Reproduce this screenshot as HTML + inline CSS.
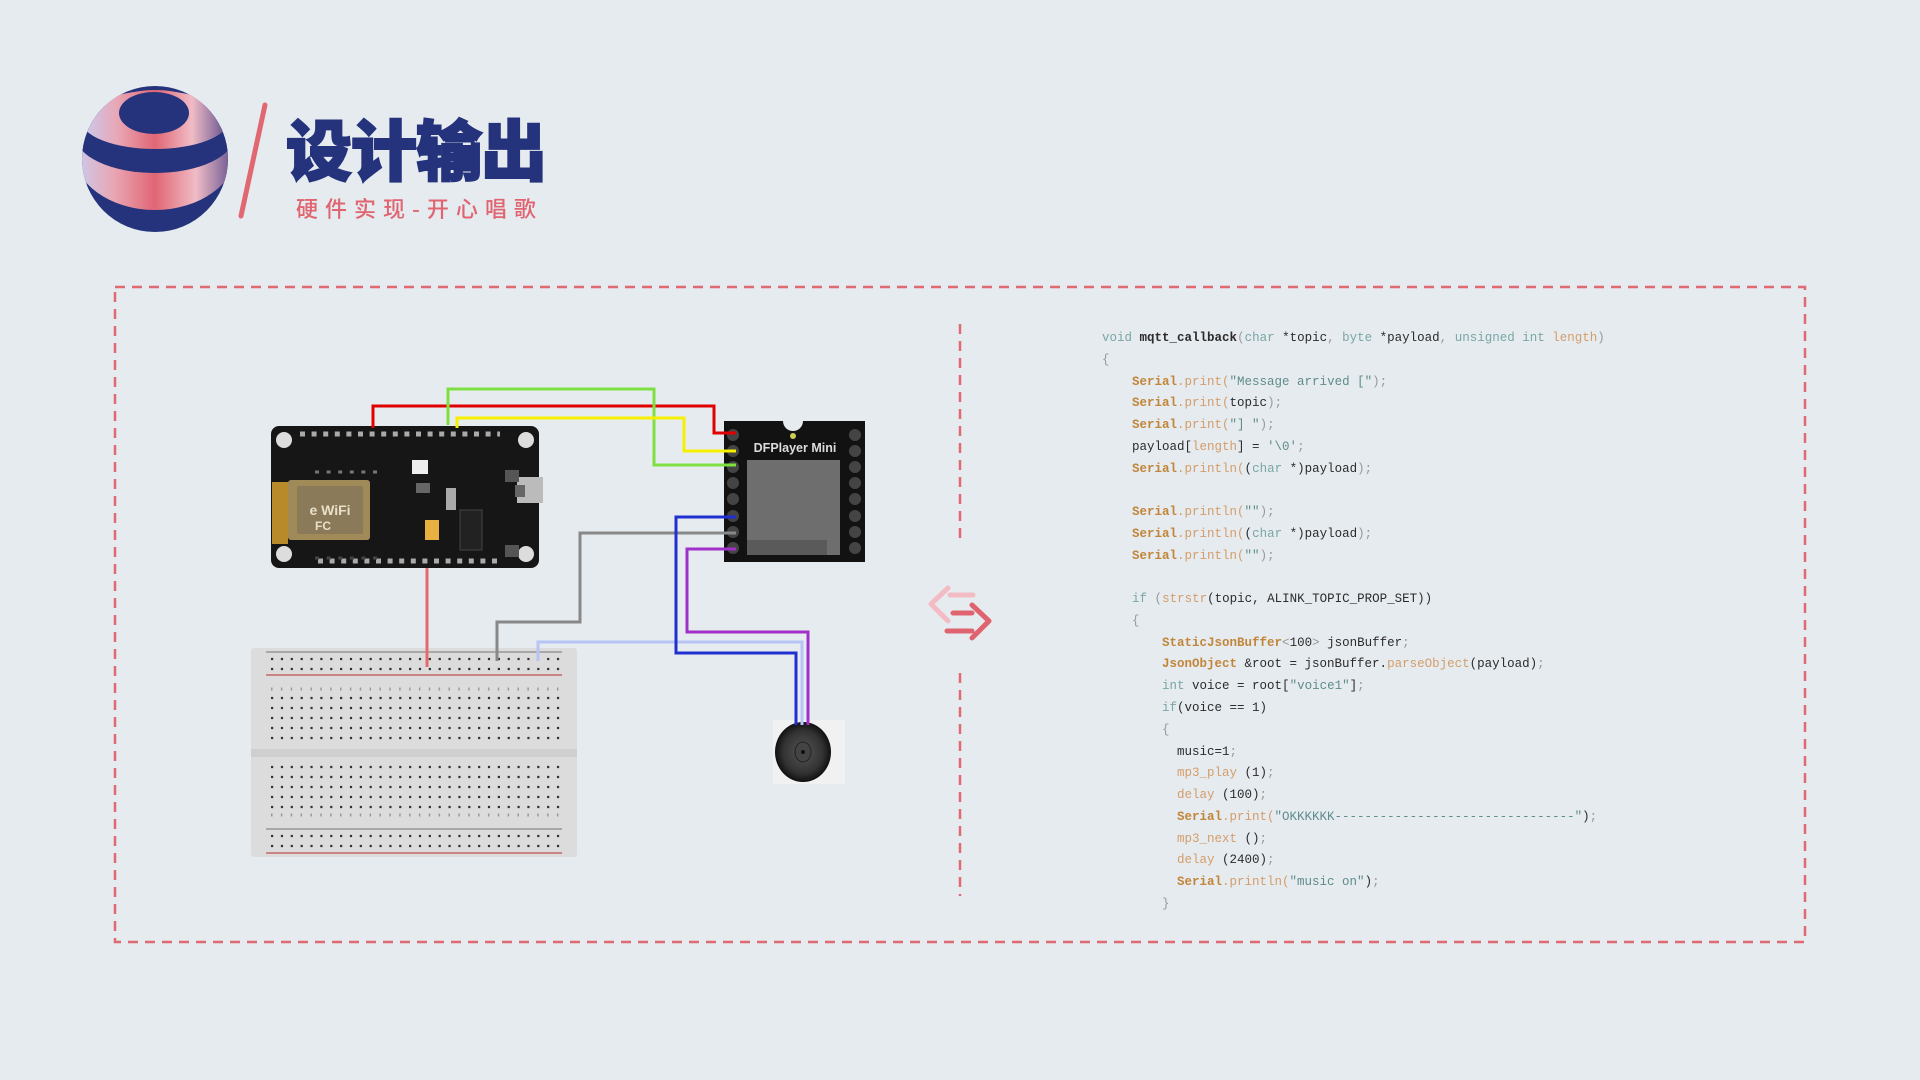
<!DOCTYPE html>
<html><head><meta charset="utf-8">
<style>
html,body{margin:0;padding:0;}
body{width:1920px;height:1080px;background:#e6ebef;position:relative;overflow:hidden;font-family:"Liberation Sans","Noto Sans CJK SC",sans-serif;}
.title{position:absolute;left:286px;top:104px;font-size:66px;font-weight:900;color:#24337c;letter-spacing:-1px;font-family:"Noto Sans CJK SC","WenQuanYi Zen Hei",sans-serif;line-height:86px;-webkit-text-stroke:2px #24337c;}
.sub{position:absolute;left:296px;top:193px;font-size:22px;color:#e06570;letter-spacing:7px;font-family:"Noto Sans CJK SC",sans-serif;line-height:30px;font-weight:500;}
pre{position:absolute;left:1102px;top:328px;margin:0;font-family:"Liberation Mono",monospace;font-size:12.5px;line-height:21.76px;color:#2b2b2b;}
.k{color:#7aa6a6}.s{color:#c2863a;font-weight:bold}.m{color:#d49d6a}.q{color:#5f8c8c}.p{color:#999}
</style></head><body>
<svg width="1920" height="1080" style="position:absolute;left:0;top:0">
<defs>
<clipPath id="cc"><circle cx="155" cy="159" r="73"/></clipPath>
<linearGradient id="pk" x1="0" x2="1" y1="0" y2="0">
<stop offset="0" stop-color="#c9cdf2"/><stop offset="0.25" stop-color="#e9a6b4"/><stop offset="0.5" stop-color="#e06674"/><stop offset="0.75" stop-color="#f0bcc6"/><stop offset="1" stop-color="#5a4a8a"/></linearGradient>
<radialGradient id="spk" cx="0.5" cy="0.5" r="0.5"><stop offset="0" stop-color="#555"/><stop offset="0.7" stop-color="#333"/><stop offset="1" stop-color="#111"/></radialGradient>
</defs>
<!-- logo -->
<g clip-path="url(#cc)">
<rect x="80" y="80" width="160" height="160" fill="#24337c"/>
<ellipse cx="155" cy="150" rx="82" ry="60" fill="url(#pk)"/>
<ellipse cx="155" cy="135" rx="80" ry="38" fill="#24337c"/>
<ellipse cx="155" cy="120" rx="74" ry="29" fill="url(#pk)"/>
<ellipse cx="154" cy="113" rx="35" ry="21" fill="#24337c"/>
</g>
<line x1="265" y1="105" x2="241" y2="216" stroke="#e06872" stroke-width="5" stroke-linecap="round"/>
<!-- dashed box -->
<rect x="115" y="287" width="1690" height="655" fill="none" stroke="#e06a72" stroke-width="2.5" stroke-dasharray="10 7"/>
<line x1="960" y1="324" x2="960" y2="545" stroke="#e06a72" stroke-width="2.5" stroke-dasharray="10 7"/>
<line x1="960" y1="673" x2="960" y2="896" stroke="#e06a72" stroke-width="2.5" stroke-dasharray="10 7"/>
<!-- arrows -->
<g fill="none" stroke-width="5" stroke-linecap="round" stroke-linejoin="round">
<path d="M973 595 H950 M948 588 L931 604 L948 621" stroke="#f3bcc4"/>
<path d="M953 613 H972 M947 631 H972 M972 605 L989 621 L972 638" stroke="#e0646f"/>
</g>
<!-- breadboard -->
<rect x="251" y="648" width="326" height="209" rx="3" fill="#dcdcdc"/>
<rect x="251" y="749" width="326" height="8" fill="#cfcfcf"/>
<line x1="266" y1="652" x2="562" y2="652" stroke="#888" stroke-width="1.2"/>
<line x1="266" y1="675" x2="562" y2="675" stroke="#c05050" stroke-width="1.2"/>
<line x1="266" y1="829" x2="562" y2="829" stroke="#888" stroke-width="1.2"/>
<line x1="266" y1="853" x2="562" y2="853" stroke="#c05050" stroke-width="1.2"/>
<g stroke="#333" stroke-width="2.2" stroke-dasharray="2.2 7.66">
<line x1="271" y1="659" x2="561" y2="659"/><line x1="271" y1="669" x2="561" y2="669"/>
<line x1="271" y1="698" x2="561" y2="698"/><line x1="271" y1="708" x2="561" y2="708"/><line x1="271" y1="718" x2="561" y2="718"/><line x1="271" y1="728" x2="561" y2="728"/><line x1="271" y1="738" x2="561" y2="738"/>
<line x1="271" y1="767" x2="561" y2="767"/><line x1="271" y1="777" x2="561" y2="777"/><line x1="271" y1="787" x2="561" y2="787"/><line x1="271" y1="797" x2="561" y2="797"/><line x1="271" y1="807" x2="561" y2="807"/>
<line x1="271" y1="836" x2="561" y2="836"/><line x1="271" y1="846" x2="561" y2="846"/>
</g>
<g stroke="#999" stroke-width="3" stroke-dasharray="1.5 8.36"><line x1="271" y1="689" x2="561" y2="689"/><line x1="271" y1="815" x2="561" y2="815"/></g>
<!-- nodemcu -->
<rect x="271" y="426" width="268" height="142" rx="8" fill="#161616"/>
<circle cx="284" cy="440" r="8" fill="#ddd"/><circle cx="526" cy="440" r="8" fill="#ddd"/>
<circle cx="284" cy="554" r="8" fill="#ddd"/><circle cx="526" cy="554" r="8" fill="#ddd"/>
<g stroke="#aaa" stroke-width="5" stroke-dasharray="5 6.6"><line x1="300" y1="434" x2="500" y2="434"/><line x1="318" y1="561" x2="500" y2="561"/></g>
<g stroke="#777" stroke-width="3" stroke-dasharray="4 7.6"><line x1="315" y1="472" x2="380" y2="472"/><line x1="315" y1="558" x2="380" y2="558" stroke="#444"/></g>
<rect x="272" y="482" width="16" height="62" fill="#b88a2a"/>
<rect x="288" y="480" width="82" height="60" rx="3" fill="#a08a58"/>
<rect x="297" y="486" width="66" height="48" rx="2" fill="#8a7a5a"/>
<text x="330" y="515" font-size="14" font-weight="bold" fill="#e8e0c8" text-anchor="middle">e WiFi</text>
<text x="315" y="530" font-size="12" font-weight="bold" fill="#e8e0c8">FC</text>
<rect x="425" y="520" width="14" height="20" fill="#e8b040"/><rect x="460" y="510" width="22" height="40" fill="#222" stroke="#444"/>
<rect x="416" y="483" width="14" height="10" fill="#666"/><rect x="446" y="488" width="10" height="22" fill="#aaa"/>
<rect x="517" y="477" width="26" height="26" fill="#bbb"/><rect x="515" y="485" width="10" height="12" fill="#666"/>
<rect x="505" y="470" width="14" height="12" fill="#555"/><rect x="505" y="545" width="14" height="12" fill="#555"/>
<rect x="412" y="460" width="16" height="14" fill="#eee"/>
<!-- dfplayer -->
<rect x="724" y="421" width="141" height="141" fill="#121212"/>
<circle cx="793" cy="421" r="10" fill="#e6ebef"/>
<circle cx="793" cy="436" r="3" fill="#cc5"/>
<text x="795" y="452" font-size="12.5" fill="#ddd" text-anchor="middle" font-weight="bold">DFPlayer Mini</text>
<rect x="747" y="460" width="93" height="95" fill="#6e6e6e"/>
<rect x="747" y="540" width="80" height="15" fill="#5a5a5a"/>
<g fill="#444"><circle cx="733" cy="435" r="6"/><circle cx="733" cy="451" r="6"/><circle cx="733" cy="467" r="6"/><circle cx="733" cy="483" r="6"/><circle cx="733" cy="499" r="6"/><circle cx="733" cy="516" r="6"/><circle cx="733" cy="532" r="6"/><circle cx="733" cy="548" r="6"/>
<circle cx="855" cy="435" r="6"/><circle cx="855" cy="451" r="6"/><circle cx="855" cy="467" r="6"/><circle cx="855" cy="483" r="6"/><circle cx="855" cy="499" r="6"/><circle cx="855" cy="516" r="6"/><circle cx="855" cy="532" r="6"/><circle cx="855" cy="548" r="6"/></g>
<!-- speaker -->
<rect x="773" y="720" width="72" height="64" fill="#f1f1f1"/>
<ellipse cx="803" cy="752" rx="28" ry="30" fill="url(#spk)"/>
<ellipse cx="803" cy="752" rx="8" ry="10" fill="#444" stroke="#222"/>
<circle cx="803" cy="752" r="2" fill="#111"/>
<!-- wires -->
<g fill="none" stroke-width="3">
<polyline points="427,568 427,667" stroke="#e86870"/>
<polyline points="373,428 373,406 714,406 714,433 736,433" stroke="#e00000"/>
<polyline points="448,425 448,389 654,389 654,465 736,465" stroke="#7ee040"/>
<polyline points="457,428 457,418 684,418 684,451 736,451" stroke="#f5f000"/>
<polyline points="736,533 580,533 580,622 497,622 497,661" stroke="#888"/>
<polyline points="538,661 538,642 802,642 802,725" stroke="#b8c4f4"/>
<polyline points="736,517 676,517 676,653 796,653 796,725" stroke="#2030d0"/>
<polyline points="736,549 687,549 687,632 808,632 808,725" stroke="#a030c8"/>
</g>
</svg>
<div class="title">设计输出</div>
<div class="sub">硬件实现-开心唱歌</div>
<pre><span class="k">void</span> <b>mqtt_callback</b><span class="p">(</span><span class="k">char</span> *topic<span class="p">,</span> <span class="k">byte</span> *payload<span class="p">,</span> <span class="k">unsigned int</span> <span class="m">length</span><span class="p">)</span>
<span class="p">{</span>
    <span class="s">Serial</span><span class="m">.print(</span><span class="q">"Message arrived ["</span><span class="p">);</span>
    <span class="s">Serial</span><span class="m">.print(</span>topic<span class="p">);</span>
    <span class="s">Serial</span><span class="m">.print(</span><span class="q">"] "</span><span class="p">);</span>
    payload[<span class="m">length</span>] = <span class="q">'\0'</span><span class="p">;</span>
    <span class="s">Serial</span><span class="m">.println(</span>(<span class="k">char</span> *)payload<span class="p">);</span>

    <span class="s">Serial</span><span class="m">.println(</span><span class="q">""</span><span class="p">);</span>
    <span class="s">Serial</span><span class="m">.println(</span>(<span class="k">char</span> *)payload<span class="p">);</span>
    <span class="s">Serial</span><span class="m">.println(</span><span class="q">""</span><span class="p">);</span>

    <span class="k">if</span> <span class="p">(</span><span class="m">strstr</span>(topic, ALINK_TOPIC_PROP_SET))
    <span class="p">{</span>
        <span class="s">StaticJsonBuffer</span><span class="p">&lt;</span>100<span class="p">&gt;</span> jsonBuffer<span class="p">;</span>
        <span class="s">JsonObject</span> &amp;root = jsonBuffer.<span class="m">parseObject</span>(payload)<span class="p">;</span>
        <span class="k">int</span> voice = root[<span class="q">"voice1"</span>]<span class="p">;</span>
        <span class="k">if</span>(voice == 1)
        <span class="p">{</span>
          music=1<span class="p">;</span>
          <span class="m">mp3_play</span> (1)<span class="p">;</span>
          <span class="m">delay</span> (100)<span class="p">;</span>
          <span class="s">Serial</span><span class="m">.print(</span><span class="q">"OKKKKKK--------------------------------"</span>)<span class="p">;</span>
          <span class="m">mp3_next</span> ()<span class="p">;</span>
          <span class="m">delay</span> (2400)<span class="p">;</span>
          <span class="s">Serial</span><span class="m">.println(</span><span class="q">"music on"</span>)<span class="p">;</span>
        <span class="p">}</span></pre>
</body></html>
